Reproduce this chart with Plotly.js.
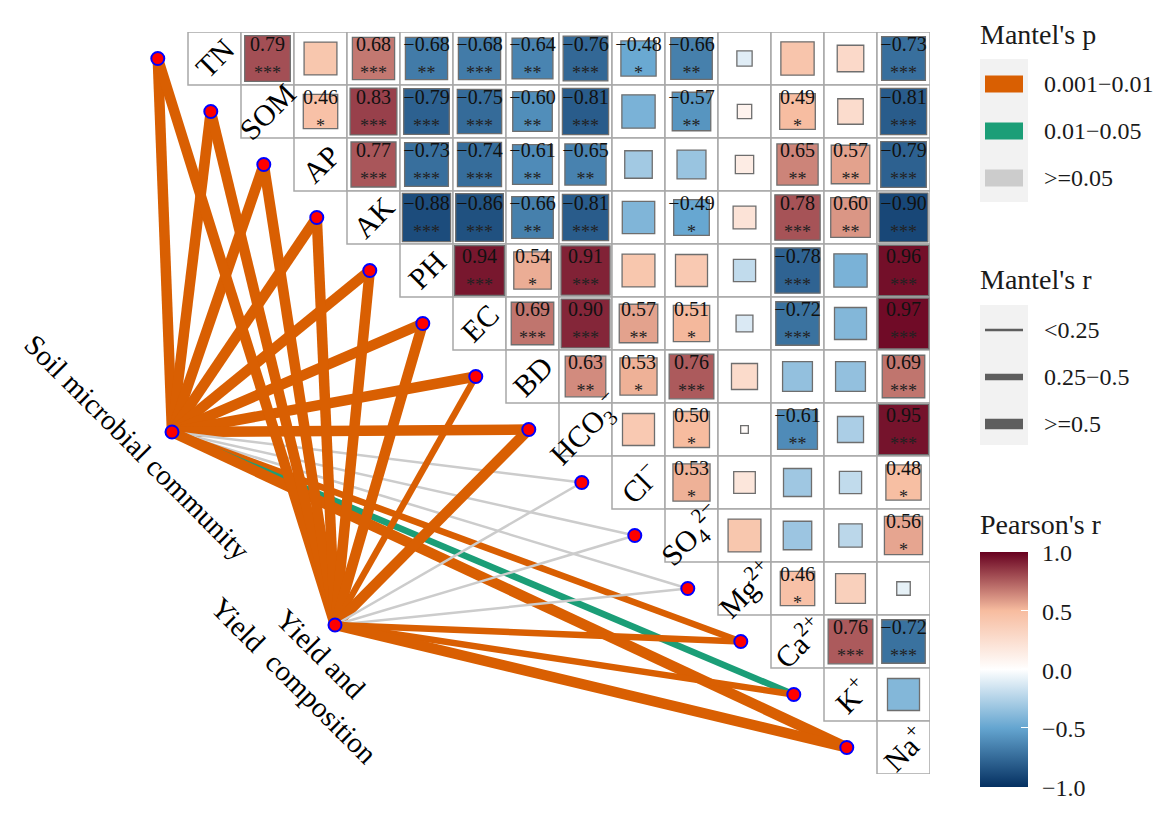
<!DOCTYPE html>
<html><head><meta charset="utf-8">
<script src="https://cdn.plot.ly/plotly-3.0.1.min.js"></script>
<style>html,body{margin:0;padding:0;background:#fff}</style>
</head><body><div id="chart" style="width:1166px;height:819px"></div>
<script>
// ---------------- DATA ----------------
const variables = ['TN','SOM','AP','AK','PH','EC','BD','HCO3-','Cl-','SO4 2-','Mg2+','Ca2+','K+','Na+'];
const variableLabels = ['TN','SOM','AP','AK','PH','EC','BD','HCO<sub>3</sub><sup>−</sup>','Cl<sup>−</sup>','SO<sub>4</sub><sup>2−</sup>','Mg<sup>2+</sup>','Ca<sup>2+</sup>','K<sup>+</sup>','Na<sup>+</sup>'];

// Pearson's r: row i holds columns i+1 .. 13
const pearsonRows = [
 [0.79,0.42,0.68,-0.68,-0.68,-0.64,-0.76,-0.48,-0.66,-0.10,0.43,0.28,-0.73],
 [0.46,0.83,-0.79,-0.75,-0.60,-0.81,-0.43,-0.57,0.09,0.49,0.26,-0.81],
 [0.77,-0.73,-0.74,-0.61,-0.65,-0.30,-0.33,0.14,0.65,0.57,-0.79],
 [-0.88,-0.86,-0.66,-0.81,-0.41,-0.49,0.21,0.78,0.60,-0.90],
 [0.94,0.54,0.91,0.42,0.40,-0.20,-0.78,-0.43,0.96],
 [0.69,0.90,0.57,0.51,-0.12,-0.72,-0.40,0.97],
 [0.63,0.53,0.76,0.27,-0.35,-0.35,0.69],
 [0.40,0.50,0.03,-0.61,-0.27,0.95],
 [0.53,0.19,-0.31,-0.20,0.48],
 [0.42,-0.32,-0.22,0.56],
 [0.46,0.35,-0.08],
 [0.76,-0.72],
 [-0.40]
];
const signifRows = [
 ['***','','***','**','***','**','***','*','**','','','','***'],
 ['*','***','***','***','**','***','','**','','*','','***'],
 ['***','***','***','**','**','','','','**','**','***'],
 ['***','***','**','***','','*','','***','**','***'],
 ['***','*','***','','','','***','','***'],
 ['***','***','**','*','','***','','***'],
 ['**','*','***','','','','***'],
 ['','*','','**','','***'],
 ['*','','','','*'],
 ['','','','*'],
 ['*','',''],
 ['***','***'],
 ['']
];

const mantelGroups = ['Soil microbial community', 'Yield and Yield composition'];
const mantelPClasses = ['0.001-0.01','0.01-0.05','>=0.05'];
const mantelRClasses = ['<0.25','0.25-0.5','>=0.5'];
const mantelP = [
 ['0.001-0.01','0.001-0.01','0.001-0.01','0.001-0.01','0.001-0.01','0.001-0.01','0.001-0.01','0.001-0.01','>=0.05','>=0.05','>=0.05','0.001-0.01','0.01-0.05','0.001-0.01'],
 ['0.001-0.01','0.001-0.01','0.001-0.01','0.001-0.01','0.001-0.01','0.001-0.01','0.001-0.01','0.001-0.01','>=0.05','>=0.05','>=0.05','0.001-0.01','0.001-0.01','0.001-0.01']
];
const mantelR = [
 ['>=0.5','>=0.5','>=0.5','>=0.5','>=0.5','>=0.5','>=0.5','>=0.5','<0.25','<0.25','<0.25','0.25-0.5','0.25-0.5','>=0.5'],
 ['>=0.5','>=0.5','>=0.5','>=0.5','>=0.5','>=0.5','0.25-0.5','>=0.5','<0.25','<0.25','<0.25','0.25-0.5','0.25-0.5','>=0.5']
];
const colorbarTicks = [-1, -0.5, 0, 0.5, 1];

// ---------------- STYLE / LAYOUT CONSTANTS ----------------
const FONT = 'Liberation Serif, Times New Roman, serif';
const CELL = 53, GRID_LEFT = 188, MARGIN_T = 32, W = 1166, H = 819;
const N = variables.length;
const PLOT_W = GRID_LEFT + N*CELL, PLOT_H = N*CELL;
const XMIN = -0.5 - GRID_LEFT/CELL;
const pColor = {'0.001-0.01':'#D95F02','0.01-0.05':'#1B9E77','>=0.05':'#CCCCCC'};
const rWidth = {'<0.25':2.5,'0.25-0.5':6.5,'>=0.5':10.5};
const nodePx = [[172,432],[335,625]];
const ENDPOINT_DX = -1.07;
const colorscale = [[0,'#053061'],[0.25,'#64A5D0'],[0.5,'#FFFFFF'],[0.75,'#F7BC9F'],[1,'#67001F']];
const CB_TOP = 553, CB_LEN = 235;

const d2x = p => XMIN + p/CELL;
const d2y = p => -0.5 + (p - MARGIN_T)/CELL;
const px = p => p/PLOT_W;
const py = p => 1 - (p - MARGIN_T)/PLOT_H;
const fmt = v => v.toFixed(2).replace('-', '\u2212');

const traces = [];
const shapes = [];
const annotations = [];

// grid cells
for (let i = 0; i < N; i++) for (let j = i; j < N; j++) {
  shapes.push({type:'rect', xref:'x', yref:'y', x0:j-0.5, x1:j+0.5, y0:i-0.5, y1:i+0.5,
    line:{color:'#A8A8A8', width:1.5}, fillcolor:'#FFFFFF', layer:'below'});
}

// mantel links
mantelGroups.forEach((g, gi) => {
  const nx = d2x(nodePx[gi][0]), ny = d2y(nodePx[gi][1]);
  variables.forEach((v, k) => {
    traces.push({type:'scatter', mode:'lines', x:[nx, k + ENDPOINT_DX], y:[ny, k],
      line:{color:pColor[mantelP[gi][k]], width:rWidth[mantelR[gi][k]]}, hoverinfo:'skip', showlegend:false});
  });
});

// squares
const sx = [], sy = [], sv = [], ss = [];
const tx = [], ty = [], tt = [], stx = [], sty = [], stt = [];
pearsonRows.forEach((row, i) => row.forEach((v, k) => {
  const j = i + 1 + k;
  sx.push(j); sy.push(i); sv.push(v); ss.push(Math.sqrt(Math.abs(v))*CELL - 1.5);
  const s = signifRows[i][k];
  if (s) { tx.push(j); ty.push(i - 0.24); tt.push(fmt(v)); stx.push(j); sty.push(i + 0.3); stt.push(s); }
}));
traces.push({type:'scatter', mode:'markers', x:sx, y:sy, hoverinfo:'skip', showlegend:false,
  marker:{symbol:'square', size:ss, color:sv, cmin:-1, cmax:1, colorscale:colorscale,
    line:{color:'#6E6E6E', width:1.3}, opacity:1,
    showscale:true,
    colorbar:{xref:'container', yref:'container', x:980/W, xanchor:'left', y:1-(CB_TOP + CB_LEN/2 + 68)/H, yanchor:'middle',
      lenmode:'pixels', len:CB_LEN, thickness:48, thicknessmode:'pixels', xpad:0, ypad:0, outlinewidth:0,
      tickvals:colorbarTicks, showticklabels:false,
      ticks:'inside', ticklen:7, tickcolor:'#FFFFFF', tickwidth:1.2}}});
traces.push({type:'scatter', mode:'text', x:tx, y:ty, text:tt, hoverinfo:'skip', showlegend:false, cliponaxis:false,
  textfont:{family:FONT, size:20, color:'#111'}});
traces.push({type:'scatter', mode:'text', x:stx, y:sty, text:stt, hoverinfo:'skip', showlegend:false, cliponaxis:false,
  textfont:{family:FONT, size:18, color:'#222'}});

// endpoints & nodes
const ex = variables.map((v, k) => k + ENDPOINT_DX).concat(nodePx.map(p => d2x(p[0])));
const ey = variables.map((v, k) => k).concat(nodePx.map(p => d2y(p[1])));
traces.push({type:'scatter', mode:'markers', x:ex, y:ey, hoverinfo:'skip', showlegend:false, cliponaxis:false,
  marker:{size:13, color:'#FF0000', line:{color:'#0000FF', width:2}}});

// diagonal labels
variableLabels.forEach((lab, i) => {
  annotations.push({xref:'x', yref:'y', x:i, y:i, xanchor:'center', yanchor:'middle', text:lab, showarrow:false, textangle:-45,
    font:{family:FONT, size:30, color:'#000'}});
});

// group labels
annotations.push({xref:'paper', yref:'paper', x:px(137), y:py(447), xanchor:'center', yanchor:'middle', text:mantelGroups[0], showarrow:false,
  textangle:45, font:{family:FONT, size:29, color:'#000'}});
annotations.push({xref:'paper', yref:'paper', x:px(307), y:py(667), xanchor:'center', yanchor:'middle', text:'Yield and<br>Yield\u00A0 composition', showarrow:false,
  textangle:45, align:'center', font:{family:FONT, size:29, color:'#000'}});

// legends
function legText(t, x, y, size) {
  annotations.push({xref:'paper', yref:'paper', x:px(x), y:py(y), xanchor:'left', yanchor:'middle', text:t,
    showarrow:false, font:{family:FONT, size:size, color:'#1a1a1a'}});
}
function rectPx(x0, x1, y0, y1, fill) {
  shapes.push({type:'rect', xref:'paper', yref:'paper', x0:px(x0), x1:px(x1), y0:py(y1), y1:py(y0),
    line:{width:0}, fillcolor:fill, layer:'above'});
}
legText("Mantel's p", 978, 34, 28);
rectPx(980, 1028, 59, 202, '#F2F2F2');
const pLabels = ['0.001\u22120.01','0.01\u22120.05','&gt;=0.05'];
mantelPClasses.forEach((c, k) => {
  const yc = 84 + k*47;
  rectPx(985, 1023, yc - 8.5, yc + 8.5, pColor[c]);
  legText(pLabels[k], 1042, yc, 24);
});
legText("Mantel's r", 978, 279, 28);
rectPx(980, 1028, 305, 445, '#F2F2F2');
const rLabels = ['&lt;0.25','0.25\u22120.5','&gt;=0.5'];
mantelRClasses.forEach((c, k) => {
  const yc = 330 + k*47;
  shapes.push({type:'line', xref:'paper', yref:'paper', x0:px(985), x1:px(1023), y0:py(yc), y1:py(yc),
    line:{color:'#5E5E5E', width:rWidth[c]}, layer:'above'});
  legText(rLabels[k], 1042, yc, 24);
});
legText("Pearson's r", 978, 524, 28);
colorbarTicks.forEach(t => {
  legText(t.toFixed(1).replace('-', '\u2212'), 1040, CB_TOP + (1 - t)/2*CB_LEN, 24);
});

const layout = {
  width:W, height:H, autosize:false, showlegend:false,
  paper_bgcolor:'#FFFFFF', plot_bgcolor:'rgba(0,0,0,0)',
  margin:{l:0, r:W - PLOT_W, t:MARGIN_T, b:H - MARGIN_T - PLOT_H, pad:0},
  xaxis:{range:[XMIN, N - 0.5], visible:false, fixedrange:true},
  yaxis:{range:[N - 0.5, -0.5], visible:false, fixedrange:true},
  shapes:shapes, annotations:annotations, font:{family:FONT}
};
Plotly.newPlot('chart', traces, layout, {displayModeBar:false, staticPlot:true});
</script></body></html>
